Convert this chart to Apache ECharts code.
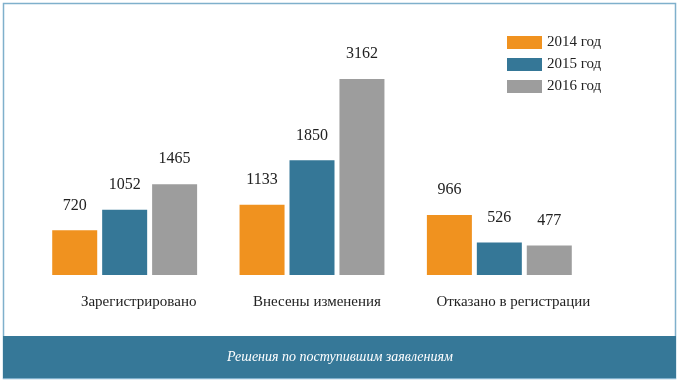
<!DOCTYPE html>
<html><head><meta charset="utf-8">
<script src="https://cdn.jsdelivr.net/npm/echarts@6/dist/echarts.min.js"></script>
<style>html,body{margin:0;padding:0;background:#fff}#c{width:679px;height:383px}</style>
</head><body><div id="c"></div>
<script>
const categories = ['Зарегистрировано', 'Внесены изменения', 'Отказано в регистрации'];
const seriesNames = ['2014 год', '2015 год', '2016 год'];
const values2014 = [720, 1133, 966];
const values2015 = [1052, 1850, 526];
const values2016 = [1465, 3162, 477];
const footerText = 'Решения по поступившим заявлениям';

const colors = ['#f0921f', '#357797', '#9d9d9d'];
const serif = '"Liberation Serif", "DejaVu Serif", serif';
const chart = echarts.init(document.getElementById('c'));
const data = [values2014, values2015, values2016];
const shiftKeys = ['a', 'b', 'a'];
chart.setOption({
  animation: false,
  color: colors,
  legend: {
    orient: 'vertical', left: 502, top: 30, itemWidth: 35, itemHeight: 13, itemGap: 7,
    icon: 'rect',
    textStyle: { fontFamily: serif, fontSize: 15, color: '#222' },
    data: seriesNames
  },
  grid: { left: 31, right: 86, top: 58, bottom: 108 },
  xAxis: {
    type: 'category', data: categories,
    axisLine: { show: false }, axisTick: { show: false },
    axisLabel: {
      interval: 0, margin: 20, color: '#222', fontFamily: serif, fontSize: 15,
      formatter: (v, i) => '{' + shiftKeys[i] + '|' + v + '}',
      rich: {
        a: { fontFamily: serif, fontSize: 15, color: '#222', padding: [0, 0, 0, 28] },
        b: { fontFamily: serif, fontSize: 15, color: '#222', padding: [0, 0, 0, 10] }
      }
    }
  },
  yAxis: { type: 'value', min: 0, max: 3500, show: false, splitLine: { show: false } },
  series: seriesNames.map((n, k) => ({
    name: n, type: 'bar', data: data[k], barWidth: 45, barGap: '11%',
    label: { show: true, position: 'top', distance: 17, fontFamily: serif, fontSize: 16, color: '#222' }
  })),
  graphic: [
    { type: 'rect', shape: { x: 3.5, y: 3.5, width: 672, height: 375 }, style: { fill: 'none', stroke: '#7fb0cc', lineWidth: 1.5 }, z: 0 },
    { type: 'rect', shape: { x: 3, y: 336, width: 673, height: 42 }, style: { fill: '#367898' }, z: 1 },
    { type: 'text', x: 340, y: 357, style: { text: footerText, fill: '#fff', font: 'italic 14px "Liberation Serif", serif', textAlign: 'center', textVerticalAlign: 'middle' }, z: 2 }
  ]
});
</script></body></html>
